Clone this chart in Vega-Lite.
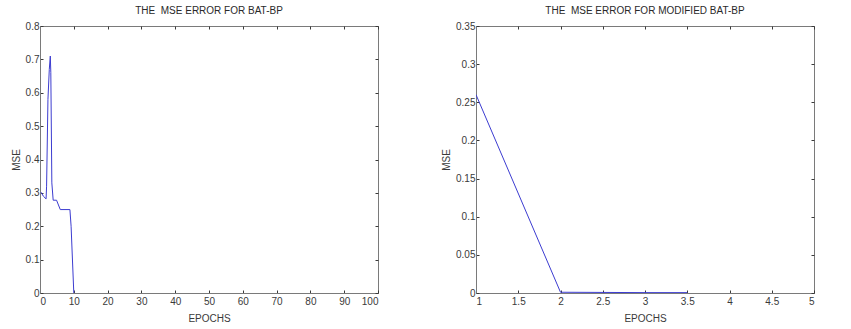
{
  "$schema": "https://vega.github.io/schema/vega-lite/v6.json",
  "padding": {"left": 10, "top": 5, "right": 0, "bottom": 0},
  "background": "white",
  "spacing": 98,
  "bounds": "flush",
  "config": {
    "font": "Liberation Sans",
    "view": {"stroke": "#7a7a7a", "strokeWidth": 1},
    "axis": {
      "grid": false,
      "labelFont": "Liberation Sans",
      "titleFont": "Liberation Sans",
      "labelFontSize": 10,
      "titleFontSize": 10,
      "titleFontWeight": "normal",
      "labelColor": "#3a3a3a",
      "titleColor": "#3a3a3a",
      "domainColor": "#7a7a7a",
      "tickColor": "#3a3a3a",
      "tickSize": -3,
      "labelPadding": 4
    },
    "axisX": {"labelPadding": 6},
    "title": {"font": "Liberation Sans", "fontSize": 10, "fontWeight": "normal", "color": "#2a2a2a", "offset": 5}
  },
  "datasets": {
    "bat": [
      {"epoch": 0.3, "mse": 0.302},
      {"epoch": 1.0, "mse": 0.29},
      {"epoch": 1.8, "mse": 0.282},
      {"epoch": 1.95, "mse": 0.32},
      {"epoch": 2.35, "mse": 0.58},
      {"epoch": 2.75, "mse": 0.67},
      {"epoch": 3.05, "mse": 0.71},
      {"epoch": 3.2, "mse": 0.66},
      {"epoch": 3.5, "mse": 0.33},
      {"epoch": 3.9, "mse": 0.278},
      {"epoch": 4.9, "mse": 0.278},
      {"epoch": 6.0, "mse": 0.25},
      {"epoch": 8.85, "mse": 0.25},
      {"epoch": 9.2, "mse": 0.2},
      {"epoch": 10.0, "mse": 0.0}
    ],
    "mod": [
      {"epoch": 1, "mse": 0.26},
      {"epoch": 2, "mse": 0.001},
      {"epoch": 3, "mse": 0.0005},
      {"epoch": 3.5, "mse": 0.0005}
    ]
  },
  "hconcat": [
    {
      "title": "THE\u00a0 MSE ERROR FOR BAT-BP",
      "width": 338,
      "height": 267,
      "data": {"name": "bat"},
      "layer": [
        {
          "mark": {"type": "line", "color": "#3c3cd0", "strokeWidth": 1, "clip": true},
          "encoding": {
            "x": {"field": "epoch", "type": "quantitative", "scale": {"domain": [0, 100], "nice": false},
                  "axis": {"title": "EPOCHS", "values": [0,10,20,30,40,50,60,70,80,90,100], "format": "~f", "titlePadding": 7}},
            "y": {"field": "mse", "type": "quantitative", "scale": {"domain": [0, 0.8], "nice": false},
                  "axis": {"title": "MSE", "values": [0,0.1,0.2,0.3,0.4,0.5,0.6,0.7,0.8], "format": "~f", "titlePadding": 4}}
          }
        },
        {
          "mark": {"type": "line", "opacity": 0},
          "encoding": {
            "x": {"field": "epoch", "type": "quantitative", "axis": {"orient": "top", "title": null, "labels": false, "domain": false, "values": [0,10,20,30,40,50,60,70,80,90,100]}},
            "y": {"field": "mse", "type": "quantitative", "axis": {"orient": "right", "title": null, "labels": false, "domain": false, "values": [0,0.1,0.2,0.3,0.4,0.5,0.6,0.7,0.8]}}
          }
        }
      ],
      "resolve": {"axis": {"x": "independent", "y": "independent"}}
    },
    {
      "title": "THE\u00a0 MSE ERROR FOR MODIFIED BAT-BP",
      "width": 338,
      "height": 267,
      "data": {"name": "mod"},
      "layer": [
        {
          "mark": {"type": "line", "color": "#3c3cd0", "strokeWidth": 1, "clip": true},
          "encoding": {
            "x": {"field": "epoch", "type": "quantitative", "scale": {"domain": [1, 5], "nice": false, "zero": false},
                  "axis": {"title": "EPOCHS", "values": [1,1.5,2,2.5,3,3.5,4,4.5,5], "format": "~f", "titlePadding": 7}},
            "y": {"field": "mse", "type": "quantitative", "scale": {"domain": [0, 0.35], "nice": false},
                  "axis": {"title": "MSE", "values": [0,0.05,0.1,0.15,0.2,0.25,0.3,0.35], "format": "~f", "titlePadding": 4}}
          }
        },
        {
          "mark": {"type": "line", "opacity": 0},
          "encoding": {
            "x": {"field": "epoch", "type": "quantitative", "axis": {"orient": "top", "title": null, "labels": false, "domain": false, "values": [1,1.5,2,2.5,3,3.5,4,4.5,5]}},
            "y": {"field": "mse", "type": "quantitative", "axis": {"orient": "right", "title": null, "labels": false, "domain": false, "values": [0,0.05,0.1,0.15,0.2,0.25,0.3,0.35]}}
          }
        }
      ],
      "resolve": {"axis": {"x": "independent", "y": "independent"}}
    }
  ]
}
